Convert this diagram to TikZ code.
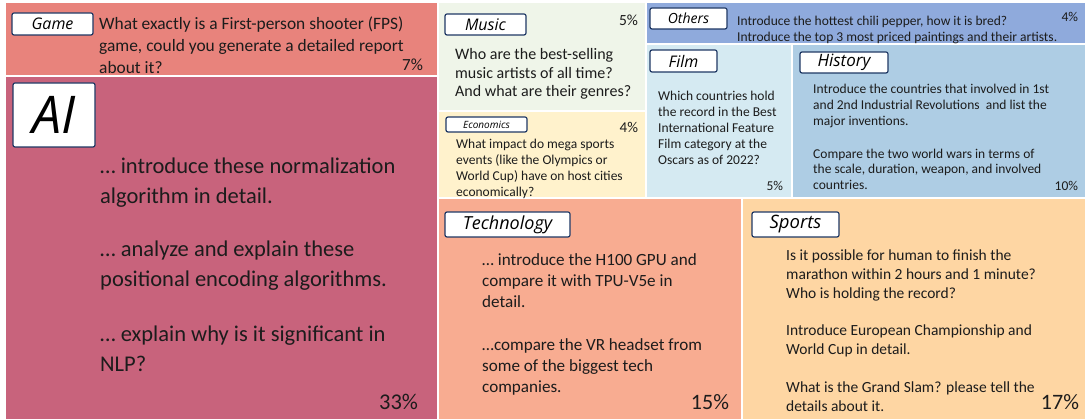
\documentclass[tikz,border=0pt]{standalone}
\usepackage{fontspec}
\setmainfont{Carlito}
\newfontfamily\tagfont{Open Sans}
\usetikzlibrary{positioning}

\definecolor{gamecol}{HTML}{E8837C}
\definecolor{aicol}{HTML}{C8637C}
\definecolor{musiccol}{HTML}{EFF5E9}
\definecolor{econcol}{HTML}{FFF2CC}
\definecolor{otherscol}{HTML}{8FAADC}
\definecolor{filmcol}{HTML}{D5EAF2}
\definecolor{historycol}{HTML}{AECDE4}
\definecolor{techcol}{HTML}{F8AC91}
\definecolor{sportscol}{HTML}{FED6A3}
\definecolor{navy}{HTML}{1F3864}
\definecolor{ink}{HTML}{1C1C1C}

% question lines, baseline of the node = baseline of the first line
\newcommand\qlines[1]{\begin{tabular}[t]{@{}l@{}}#1\end{tabular}}

\begin{document}
\begin{tikzpicture}
    [x=1pt, y=-1pt,
    cell/.style={fill=#1, inner sep=0, outer sep=0, anchor=north west},
    tag/.style={draw=navy, fill=white, line width=1.2pt, rounded corners=2pt,
        inner sep=0, outer sep=0, anchor=north west,
        font=\tagfont\itshape\fontsize{#1}{#1}\selectfont},
    txt/.style 2 args={anchor=base west, inner sep=0, text=ink,
        font=\fontsize{#1}{#2}\selectfont},
    pct/.style={inner sep=0, outer sep=0, text=ink, font=\fontsize{#1}{#1}\selectfont}]
    \useasboundingbox (0,0) rectangle (1085,419);
    % cells of the treemap
    \node[cell=gamecol, minimum width=431pt, minimum height=72pt] (game) at (6,3) {};
    \node[cell=aicol, minimum width=431pt, minimum height=342pt] (ai) at (6,77) {};
    \node[cell=musiccol, minimum width=206pt, minimum height=107pt] (music) at (439,3) {};
    \node[cell=econcol, minimum width=206pt, minimum height=85pt] (econ) at (439,112) {};
    \node[cell=otherscol, minimum width=438pt, minimum height=40pt] (others) at (647,3) {};
    \node[cell=filmcol, minimum width=144pt, minimum height=152pt] (film) at (647,45) {};
    \node[cell=historycol, minimum width=292pt, minimum height=152pt] (history) at (793,45) {};
    \node[cell=techcol, minimum width=302pt, minimum height=220pt] (tech) at (439,199) {};
    \node[cell=sportscol, minimum width=342pt, minimum height=220pt] (sports) at (743,199) {};
    % category tags
    \node[tag=16, minimum width=81pt, minimum height=22pt] (game tag) at (12,13) {Game};
    \node[tag=52, minimum width=82pt, minimum height=64pt] (ai tag) at (13,83) {AI};
    \node[tag=16, minimum width=81pt, minimum height=21pt] (music tag) at (445,14) {Music};
    \node[tag=10, minimum width=81pt, minimum height=15pt] (econ tag) at (446,117) {Economics};
    \node[tag=14, minimum width=77pt, minimum height=21pt] (others tag) at (650,8) {Others};
    \node[tag=16, minimum width=67pt, minimum height=22pt] (film tag) at (650,50) {Film};
    \node[tag=17, minimum width=88pt, minimum height=21pt] (history tag) at (800,52) {History};
    \node[tag=18, minimum width=125pt, minimum height=25pt] (tech tag) at (445,212) {Technology};
    \node[tag=18.5, minimum width=87pt, minimum height=25pt] (sports tag) at (752,212) {Sports};
    % questions
    \node[txt={17.4}{21.7}] (game text) at (99,30)
        {\qlines{What exactly is a First-person shooter (FPS)\\game, could you generate a detailed report\\about it?}};
    \node[txt={22.5}{30}] (ai text) at (100,174)
        {\qlines{… introduce these normalization\\algorithm in detail.\\[23pt]
         … analyze and explain these\\positional encoding algorithms.\\[25pt]
         … explain why is it significant in\\NLP?}};
    \node[txt={16}{18.5}] (music text) at (455,60)
        {\qlines{Who are the best-selling\\music artists of all time?\\And what are their genres?}};
    \node[txt={13.5}{16}] (econ text) at (456,149)
        {\qlines{What impact do mega sports\\events (like the Olympics or\\World Cup) have on host cities\\economically?}};
    \node[txt={13.5}{15.7}] (others text) at (737,26)
        {\qlines{Introduce the hottest chili pepper, how it is bred?\\Introduce the top 3 most priced paintings and their artists.}};
    \node[txt={13.5}{16}] (film text) at (658,101)
        {\qlines{Which countries hold\\the record in the Best\\International Feature\\Film category at the\\Oscars as of 2022?}};
    \node[txt={13.5}{15.7}] (history text) at (813,94)
        {\qlines{Introduce the countries that involved in 1st\\and 2nd Industrial Revolutions~ and list the\\major inventions.\\[17pt]
         Compare the two world wars in terms of\\the scale, duration, weapon, and involved\\countries.}};
    \node[txt={17.1}{21}] (tech text) at (482,266)
        {\qlines{… introduce the H100 GPU and\\compare it with TPU-V5e in\\detail.\\[22pt]
         …compare the VR headset from\\some of the biggest tech\\companies.}};
    \node[txt={15.5}{19}] (sports text) at (786,261)
        {\qlines{Is it possible for human to finish the\\marathon within 2 hours and 1 minute?\\Who is holding the record?\\[17.5pt]
         Introduce European Championship and\\World Cup in detail.\\[19pt]
         What is the Grand Slam? please tell the\\details about it.}};
    % shares
    \node[pct=17, above left=4.5pt and 14pt of game.south east] (game pct) {7\%};
    \node[pct=22.5, above left=9pt and 19pt of ai.south east] (ai pct) {33\%};
    \node[pct=15.5, below left=12pt and 7pt of music.north east] (music pct) {5\%};
    \node[pct=15, below left=10pt and 7pt of econ.north east] (econ pct) {4\%};
    \node[pct=13.5, below left=9.5pt and 7pt of others.north east] (others pct) {4\%};
    \node[pct=13.5, above left=6pt and 8pt of film.south east] (film pct) {5\%};
    \node[pct=13.5, above left=6pt and 7pt of history.south east] (history pct) {10\%};
    \node[pct=22, above left=9pt and 12pt of tech.south east] (tech pct) {15\%};
    \node[pct=22, above left=9pt and 6pt of sports.south east] (sports pct) {17\%};
\end{tikzpicture}
\end{document}
